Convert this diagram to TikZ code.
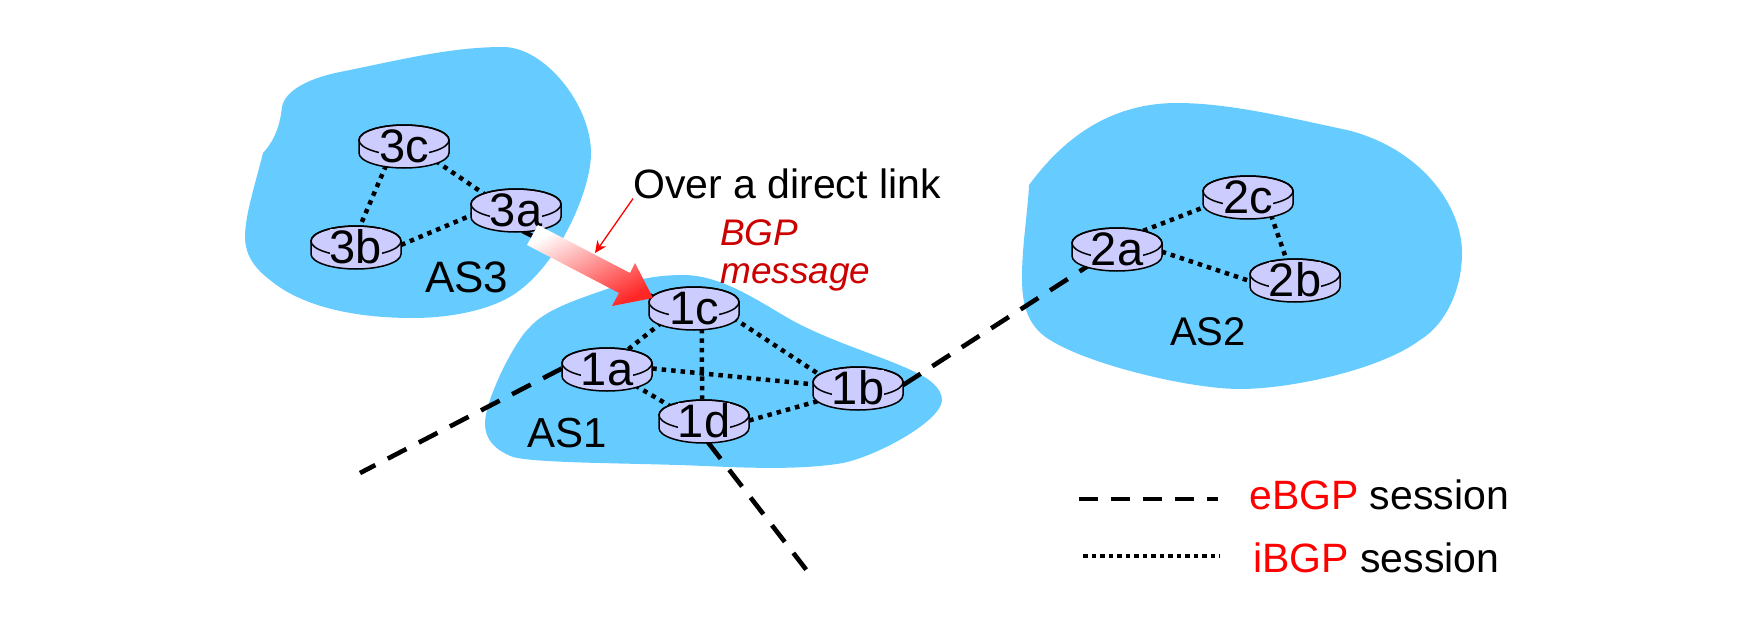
\documentclass[tikz,border=0pt]{standalone}
\usepackage{fontspec}
\setmainfont{Liberation Sans}
\usetikzlibrary{arrows.meta,shapes.geometric}
\pgfdeclarelayer{blob}
\pgfdeclarelayer{links}
\pgfsetlayers{blob,links,main}
\definecolor{asblue}{HTML}{66CCFF}
\definecolor{rtrfill}{HTML}{CCCCFF}
\definecolor{msgred}{HTML}{CC0000}
\newcommand{\fsz}[1]{\fontsize{#1}{#1}\selectfont}
\newcommand{\rtr}[3]{% x,y = centre of top ellipse
  \path[rtrbody] (#1-45,#2) -- (#1-45,#2+13) arc[start angle=180,end angle=360,x radius=45,y radius=-15] -- (#1+45,#2)
     arc[start angle=0,end angle=180,x radius=45,y radius=-15] -- cycle;
  \draw[rtrline] (#1,#2) ellipse[x radius=45,y radius=15];
  \node[rtrshape] (r#3) at (#1,#2+5.5) {};
  \node[rtrlabel] (t#3) at (#1,#2+22) {#3};
}
\tikzset{
  x=1pt,y=-1pt,
  rtrbody/.style={fill=rtrfill,draw=black,line width=1.5pt},
  rtrline/.style={draw=black,line width=1.5pt},
  rtrshape/.style={ellipse,minimum width=90pt,minimum height=43pt,inner sep=0pt},
  rtrlabel/.style={anchor=base,inner sep=0pt,fill=rtrfill,font=\fsz{47}},
  ibgp/.style={draw=black,line width=4.5pt,dash pattern=on 4.5pt off 5pt},
  ebgp/.style={draw=black,line width=4.6pt,dash pattern=on 21pt off 14pt},
  legdot/.style={draw=black,line width=4.5pt,dash pattern=on 4.5pt off 4pt},
  ascloud/.style={fill=asblue},
  aslabel/.style={anchor=base west,inner sep=0pt},
  legtext/.style={anchor=base west,inner sep=0pt,font=\fsz{41}},
}
\begin{document}
\begin{tikzpicture}
\useasboundingbox (0,0) rectangle (1752,626);
\begin{pgfonlayer}{blob}
\fill[ascloud] (263,153) .. controls (275,140) and (280,125) .. (282,107) .. controls (285,90) and (310,78) .. (340,72) .. controls (400,60) and (450,47) .. (503,47) .. controls (545,47) and (591,105) .. (591,153) .. controls (591,190) and (560,260) .. (520,290) .. controls (495,310) and (450,318) .. (413,318) .. controls (350,318) and (300,305) .. (270,280) .. controls (250,265) and (245,250) .. (245,237) .. controls (245,215) and (255,185) .. (263,153) -- cycle;
\fill[ascloud] (942,400) .. controls (942,388) and (928,378) .. (917,373) .. controls (885,357) and (840,345) .. (797,323) .. controls (765,306) and (725,275) .. (683,275) .. controls (655,275) and (635,280) .. (610,288) .. controls (575,300) and (545,310) .. (530,327) .. controls (515,340) and (485,400) .. (485,423) .. controls (485,440) and (495,450) .. (513,457) .. controls (535,463) and (620,463) .. (677,465) .. controls (720,466) and (790,472) .. (843,463) .. controls (880,455) and (942,420) .. (942,400) -- cycle;
\fill[ascloud] (1029,185) .. controls (1055,150) and (1100,103) .. (1177,103) .. controls (1230,103) and (1290,118) .. (1347,130) .. controls (1420,148) and (1462,205) .. (1462,253) .. controls (1462,290) and (1445,325) .. (1420,340) .. controls (1380,370) and (1290,389) .. (1240,389) .. controls (1190,389) and (1090,365) .. (1050,340) .. controls (1025,325) and (1022,300) .. (1022,277) .. controls (1022,245) and (1028,210) .. (1029,185) -- cycle;
\end{pgfonlayer}

\rtr{404}{140}{3c}
\rtr{516}{204}{3a}
\rtr{356}{241}{3b}
\rtr{694}{302}{1c}
\rtr{607}{363}{1a}
\rtr{704}{415}{1d}
\rtr{858}{382}{1b}
\rtr{1117}{243}{2a}
\rtr{1248}{191}{2c}
\rtr{1295}{274}{2b}

\coordinate (freeA) at (360,473);
\coordinate (freeD) at (808,572);
\coordinate (legEa) at (1079,499);
\coordinate (legEb) at (1218,499);
\coordinate (legIa) at (1083,556);
\coordinate (legIb) at (1220,556);
\coordinate (tipOver) at (595,253);

\begin{pgfonlayer}{links}
\draw[ibgp] (r3c.228) -- (r3b.78);
\draw[ibgp] (r3c.-26) -- (r3a.154);
\draw[ibgp] (r3b.2) -- (r3a.187);
\draw[ibgp] (r1c.205) -- (r1a.42);
\draw[ibgp] (r1c.-70) -- (r1d.95);
\draw[ibgp] (r1c.-15) -- (r1b.162);
\draw[ibgp] (r1a.0) -- (r1b.176);
\draw[ibgp] (r1a.-31) -- (r1d.157);
\draw[ibgp] (r1d.0) -- (r1b.199);
\draw[ibgp] (r2a.34) -- (r2c.193);
\draw[ibgp] (r2a.-4) -- (r2b.182);
\draw[ibgp] (r2c.-39) -- (r2b.113);
\draw[ebgp] (r1a.180) -- (freeA);
\draw[ebgp] (r1d.-80) -- (freeD);
\draw[ebgp] (r1b.3) -- (r2a.211);
\draw[ebgp] (r3a.-73) -- (r1c.166);
\end{pgfonlayer}

\draw[ebgp,dash pattern=on 19pt off 13pt] (legEa) -- (legEb);
\draw[legdot] (legIa) -- (legIb);

\shade[left color=white,right color=red!85!white,shading angle=27.5]
  (527,245) -- (538,225) -- (630,273) -- (635,263) -- (653,298) -- (612,306) -- (619,293) -- cycle;

\node[aslabel,font=\fsz{44}] (as3) at (425,292) {AS3};
\node[aslabel,font=\fsz{42}] (as1) at (527,447) {AS1};
\node[aslabel,font=\fsz{40}] (as2) at (1170,345) {AS2};
\node[aslabel,font=\fsz{41}] (over) at (633,198) {Over a direct link};
\node[aslabel,font=\itshape\fsz{37},text=msgred,align=left] (msg) at (720,283) {BGP\\[1pt]message};
\node[legtext] (lege) at (1249,509) {\textcolor{red}{eBGP} session};
\node[legtext] (legi) at (1253,572) {\textcolor{red}{iBGP} session};
\draw[red,line width=1.3pt,-{Stealth[length=12pt,width=11pt]}] (over.south west) -- (tipOver);
\end{tikzpicture}
\end{document}
